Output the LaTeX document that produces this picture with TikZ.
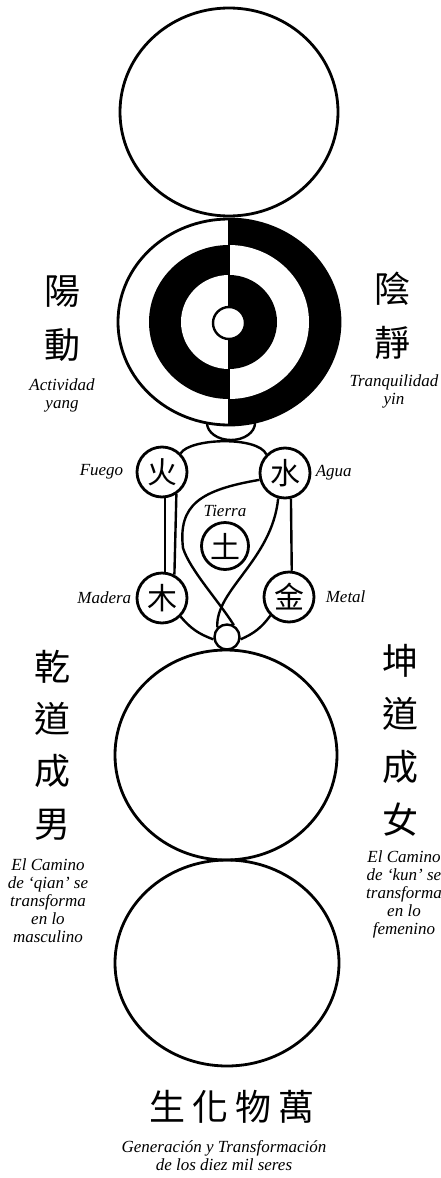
\documentclass[tikz,border=0pt]{standalone}
\usepackage{fontspec}
\setmainfont{Liberation Serif}
\newfontfamily\cjk{Noto Sans CJK TC}
\usetikzlibrary{positioning,shapes.geometric}

\begin{document}
\begin{tikzpicture}[x=0.5pt,y=0.5pt,
    orb/.style={draw,ellipse,line width=1.4pt,inner sep=0pt},
    elem/.style={draw,circle,line width=1.4pt,minimum size=25pt,inner sep=0pt,
      font=\cjk\fontsize{15}{15}\selectfont},
    link/.style={line width=1.2pt},
    glyphs/.style={font=\cjk\fontsize{18}{27}\selectfont,align=center,inner sep=0pt},
    gloss/.style={font=\itshape\fontsize{8.5}{9}\selectfont,align=center,inner sep=0pt}]
  \useasboundingbox (0,0) rectangle (440,-1178);

  % Wuji: the empty circle on top
  \node[orb,minimum width=109pt,minimum height=104pt] (wuji) at (229,-112) {};

  % little cup under the taiji circle
  \node[draw,ellipse,line width=1.2pt,minimum width=24pt,minimum height=17pt,
        inner sep=0pt] (cup) at (231,-423) {};

  % Taiji: yang on the left, yin on the right
  \fill[white] (229,-322) ellipse [x radius=111,y radius=103];
  \begin{scope}
    \clip (229,-200) rectangle (360,-440);
    \fill (229,-322) ellipse [x radius=111,y radius=103];
    \fill[white] (229,-322) ellipse [x radius=80,y radius=77];
    \fill (229,-322) ellipse [x radius=48,y radius=47];
  \end{scope}
  \begin{scope}
    \clip (229,-200) rectangle (100,-440);
    \fill (229,-322) ellipse [x radius=80,y radius=77];
    \fill[white] (229,-322) ellipse [x radius=48,y radius=47];
  \end{scope}
  \draw[line width=1.2pt] (229,-219) -- (229,-425);
  \draw[line width=1.4pt] (229,-322) ellipse [x radius=111,y radius=103];
  \node[draw,circle,fill=white,line width=1.2pt,minimum size=16pt,inner sep=0pt]
    (pole) at (229,-323) {};

  % Five phases
  \node[elem] (fire) at (162,-472) {火};
  \node[elem] (water) at (285,-473) {水};
  \node[elem,minimum size=23.5pt] (earth) at (225,-546) {土};
  \node[elem] (wood) at (162,-598) {木};
  \node[elem] (metal) at (289,-597) {金};
  \node[draw,circle,line width=1.2pt,minimum size=12.5pt,inner sep=0pt]
    (knot) at (227,-637) {};

  \node[gloss,left=6pt of fire] (fuego) {Fuego};
  \node[gloss,right=2pt of water] (agua) {Agua};
  \node[gloss,above=2pt of earth] (tierra) {Tierra};
  \node[gloss,left=2pt of wood] (madera) {Madera};
  \node[gloss,right=5pt of metal] (metall) {Metal};

  % links between the phases
  \draw[link] (fire.45) .. controls (190,-438) and (258,-436) .. (water.135);
  \draw[link] (fire.-83) -- (wood.83);
  \draw[link] (fire.-57) -- (wood.62);
  \draw[link] (water.-77) -- (metal.84);
  \coordinate (bendL) at (183,-548);
  \draw[link] (water.195) .. controls (200,-490) and (178,-505) .. (bendL)
    .. controls (190,-570) and (218,-600) .. (knot.60);
  \draw[link] (water.-105) .. controls (272,-560) and (215,-590) .. (knot.135);
  \draw[link] (wood.-45) to[bend right=15] (knot.190);
  \draw[link] (metal.-135) to[bend left=15] (knot.-10);

  % Qian and Kun circles
  \node[orb,minimum width=111pt,minimum height=105pt] (qiankun) at (226,-755) {};
  \node[orb,minimum width=112pt,minimum height=103pt] (wanwu) at (227,-963) {};

  % texts at the sides
  \node[glyphs] (yangchar) at (62,-319) {陽\\動};
  \node[gloss] (yangtxt) at (62,-395) {Actividad\\yang};
  \node[glyphs] (yinchar) at (392,-316) {陰\\靜};
  \node[gloss] (yintxt) at (394,-391) {Tranquilidad\\yin};

  \node[glyphs,font=\cjk\fontsize{18}{26.2}\selectfont] (qianchar) at (52,-745)
    {乾\\道\\成\\男};
  \node[gloss] (qiantxt) at (48,-901)
    {El Camino\\de `qian' se\\transforma\\en lo\\masculino};
  \node[glyphs,font=\cjk\fontsize{18}{26.5}\selectfont] (kunchar) at (400,-740)
    {坤\\道\\成\\女};
  \node[gloss] (kuntxt) at (404,-894)
    {El Camino\\de `kun' se\\transforma\\en lo\\femenino};

  % bottom line
  \node[glyphs] (wanwuchar) at (232,-1107)
    {生\hspace{3.5pt}化\hspace{3.5pt}物\hspace{3.5pt}萬};
  \node[gloss] (wanwutxt) at (224,-1156)
    {Generación y Transformación\\de los diez mil seres};
\end{tikzpicture}
\end{document}
